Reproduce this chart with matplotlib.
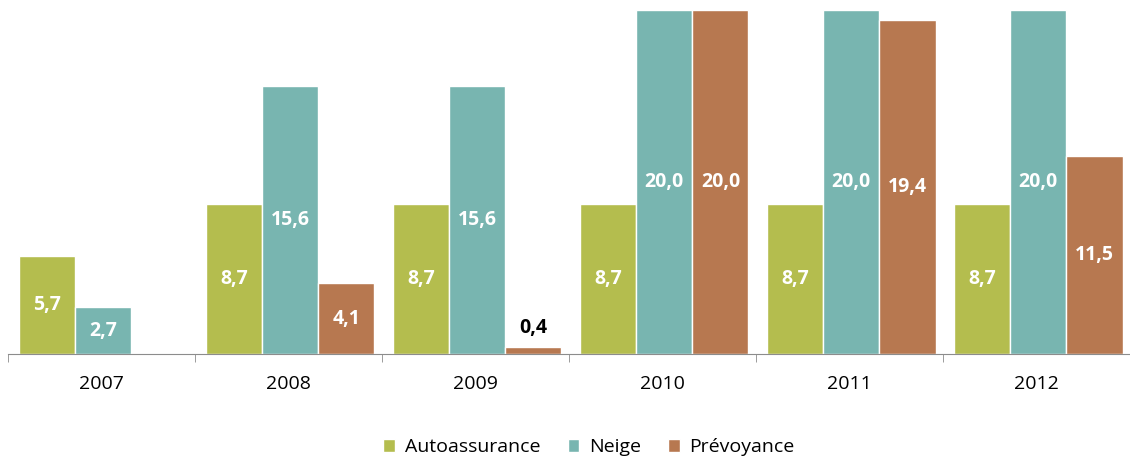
import numpy as np
import matplotlib.pyplot as plt

years = ['2007', '2008', '2009', '2010', '2011', '2012']
autoassurance = [5.7, 8.7, 8.7, 8.7, 8.7, 8.7]
neige = [2.7, 15.6, 15.6, 20.0, 20.0, 20.0]
prevoyance = [np.nan, 4.1, 0.4, 20.0, 19.4, 11.5]

series = [('Autoassurance', autoassurance, '#B4BD4E'),
          ('Neige', neige, '#78B5B0'),
          ('Prévoyance', prevoyance, '#B77850')]

plt.rcParams['font.family'] = ['Open Sans', 'DejaVu Sans']

fig = plt.figure(figsize=(11.3, 4.62), dpi=100)
ax = fig.add_axes([0.007, 0.234, 0.993, 0.744])

x = np.arange(len(years))
w = 0.3
for i, (name, vals, col) in enumerate(series):
    pos = x + (i - 1) * w + 0.01
    ax.bar(pos, vals, w, color=col, edgecolor='white', linewidth=1, label=name)
    for p, v in zip(pos, vals):
        if np.isnan(v):
            continue
        txt = f'{v:.1f}'.replace('.', ',')
        if v < 2:
            ax.text(p, v + 0.5, txt, ha='center', va='bottom', fontsize=14,
                    fontweight='bold', color='black')
        else:
            ax.text(p, v / 2, txt, ha='center', va='center', fontsize=14,
                    fontweight='bold', color='white')

ax.set_xlim(-0.5, len(years) - 0.5)
ax.set_ylim(0, 20)
for s in ['top', 'right', 'left']:
    ax.spines[s].set_visible(False)
ax.spines['bottom'].set_color('#8C8C8C')
ax.set_yticks([])
ax.set_xticks(np.arange(len(years) + 1) - 0.5, minor=True)
ax.set_xticks(x)
ax.set_xticklabels(years, fontsize=14)
ax.tick_params(axis='x', which='major', length=0, pad=15)
ax.tick_params(axis='x', which='minor', length=6, color='#8C8C8C', direction='out')

ax.legend(loc='upper center', bbox_to_anchor=(0.518, -0.195), ncol=3, frameon=False,
          fontsize=14, handlelength=0.6, handleheight=0.6, columnspacing=1.4,
          handletextpad=0.5)

fig.savefig('out.png', dpi=100)
